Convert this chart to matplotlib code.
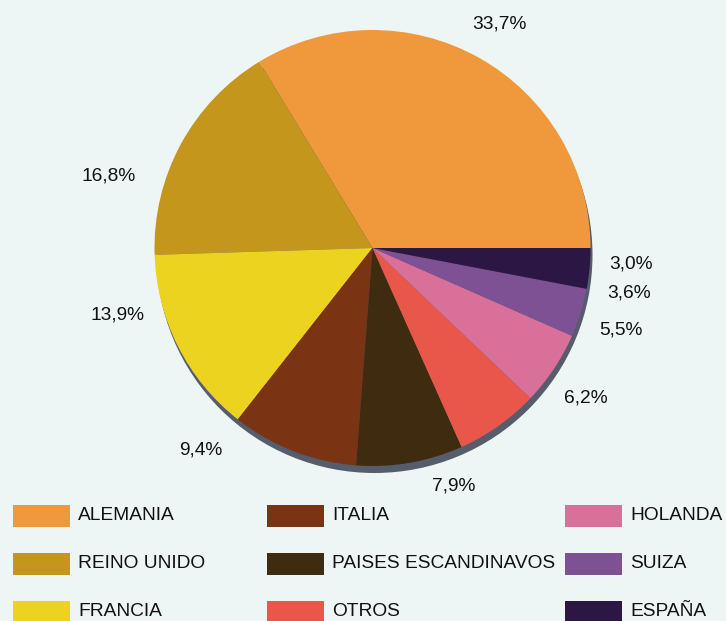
import matplotlib
matplotlib.use("Agg")
import matplotlib.pyplot as plt
from matplotlib.patches import Rectangle, Circle

# Data
paises = ["ALEMANIA", "REINO UNIDO", "FRANCIA", "ITALIA", "PAISES ESCANDINAVOS",
          "OTROS", "HOLANDA", "SUIZA", "ESPAÑA"]
porcentajes = [33.7, 16.8, 13.9, 9.4, 7.9, 6.2, 5.5, 3.6, 3.0]
etiquetas = ["33,7%", "16,8%", "13,9%", "9,4%", "7,9%", "6,2%", "5,5%", "3,6%", "3,0%"]
colores = ["#f0993c", "#c4961c", "#ebd320", "#7a3414", "#3e2b10",
           "#e9574a", "#d8709a", "#7d5194", "#2b1644"]

# Layout (pixel units, y measured upward from the bottom)
W, H = 726, 621
centro = (372.5, H - 248)
radio = 218
pos_etiquetas = [(499, H - 24), (109, H - 176), (118, H - 315), (201, H - 450),
                 (454, H - 486), (586, H - 398), (621, H - 330), (629, H - 293),
                 (631, H - 264)]
col_x = [13, 267, 565]
fila_y = [H - 516, H - 564, H - 612]
sw_w, sw_h = 57, 22

fuente = "Liberation Sans"
tam = 13.8
fondo = "#eef5f5"

fig = plt.figure(figsize=(W / 100, H / 100), dpi=100, facecolor=fondo)
ax = fig.add_axes([0, 0, 1, 1])
ax.set_facecolor(fondo)

# shadow rim beneath the pie
ax.add_patch(Circle((centro[0] + 2, centro[1] - 7), radio, color="#555c6c",
                    zorder=0, linewidth=0))

ax.pie(porcentajes, colors=colores, startangle=0, counterclock=True,
       center=centro, radius=radio, wedgeprops=dict(linewidth=0),
       frame=True)

for (x, y), txt in zip(pos_etiquetas, etiquetas):
    ax.text(x, y, txt, ha="center", va="center", fontsize=tam,
            family=fuente, color="#111111")

# Legend: three columns of three entries
for i, (nombre, c) in enumerate(zip(paises, colores)):
    col, fila = divmod(i, 3)
    x0 = col_x[col]
    yc = fila_y[fila]
    ax.add_patch(Rectangle((x0, yc - sw_h / 2), sw_w, sw_h, facecolor=c,
                           edgecolor="none", zorder=3))
    ax.text(x0 + sw_w + 8, yc, nombre, ha="left", va="center", fontsize=tam,
            family=fuente, color="#111111")

ax.set_xlim(0, W)
ax.set_ylim(0, H)
ax.set_aspect("auto")
ax.axis("off")

fig.savefig("out.png", dpi=100, facecolor=fondo)
